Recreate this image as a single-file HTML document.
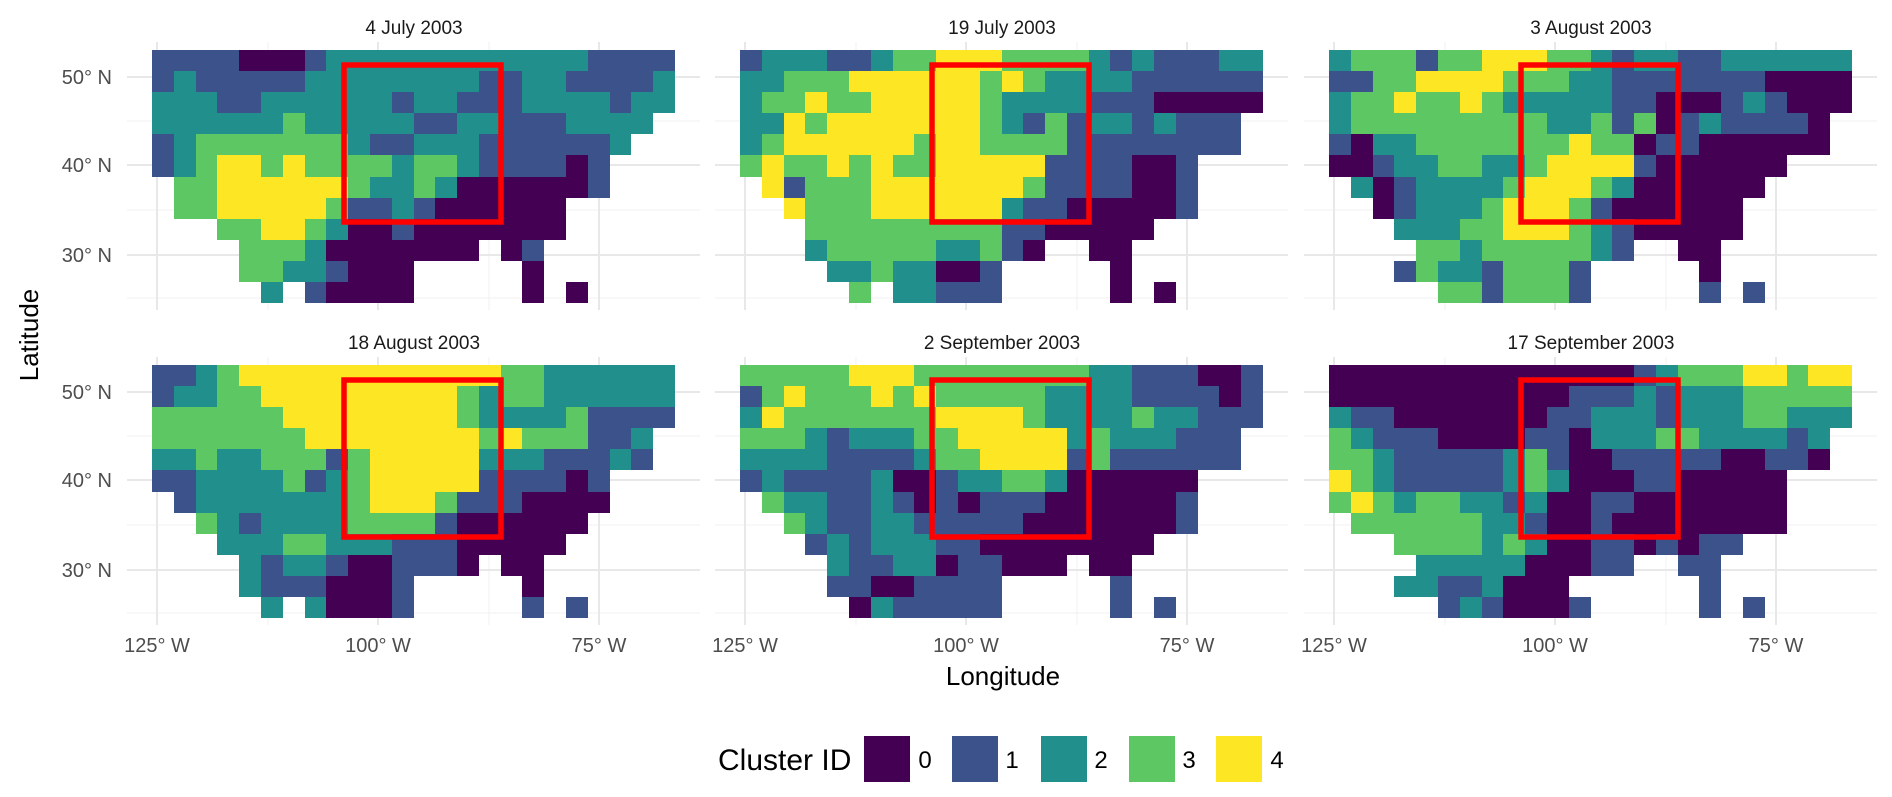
<!DOCTYPE html>
<html><head><meta charset="utf-8">
<style>
html,body{margin:0;padding:0;background:#fff;}
svg{display:block;font-family:"Liberation Sans",Arial,sans-serif;}
</style></head>
<body>
<svg id="s" width="1892" height="797" viewBox="0 0 1892 797" xmlns="http://www.w3.org/2000/svg">
<rect width="1892" height="797" fill="#fff"/>
<g id="grid"></g>
<g id="cells" shape-rendering="crispEdges"></g>
<g id="boxes"></g>
<g id="txt" fill="#4d4d4d" font-size="20"></g>
<text x="1003" y="685" font-size="26" text-anchor="middle" fill="#000">Longitude</text>
<text transform="translate(38,335) rotate(-90)" font-size="26" text-anchor="middle" fill="#000">Latitude</text>
<text x="718" y="770" font-size="30" fill="#000">Cluster ID</text>
<rect x="864" y="736" width="46" height="46" fill="#440154"/>
<rect x="952" y="736" width="46" height="46" fill="#3b528b"/>
<rect x="1041" y="736" width="46" height="46" fill="#21908c"/>
<rect x="1129" y="736" width="46" height="46" fill="#5dc863"/>
<rect x="1216" y="736" width="46" height="46" fill="#fde725"/>
<g font-size="24" fill="#000" text-anchor="middle">
<text x="925" y="768">0</text><text x="1012" y="768">1</text><text x="1101" y="768">2</text><text x="1189" y="768">3</text><text x="1277" y="768">4</text>
</g>
</svg>
<script>
var P=[
[ "1111"+"000"+"1"+"222222222222"+"1111",
  "1"+"2"+"1"+"1111"+"22222222"+"11"+"22"+"1111"+"2",
  "222112222221221112222122",
  "222222"+"3"+"22222"+"11"+"22"+"111"+"2222"+".",
  "1"+"2"+"3"+"333333"+"2"+"1"+"1"+"2"+"2"+"2"+"111111"+"2"+"..",
  "1234434333"+"3"+"2332"+"1111"+"0"+"1"+"...",
  "."+"33"+"444444"+"3"+"22"+"3"+"2"+"000000"+"1"+"...",
  "."+"33"+"44444"+"3"+"11"+"2"+"1"+"000000"+".....",
  "..."+"3344320010"+"000000"+".....",
  "...."+"333"+"2"+"0"+"00000"+"0"+"."+"0"+"1"+"......",
  "...."+"3322"+"1"+"000"+"....."+"0"+"......",
  "....."+"2"+"."+"1"+"000"+"0"+"....."+"0"+"."+"0"+"...."],
[ "122211233444333321211122",
  "223334444443432222111111",
  "233433444443222211100000",
  "22"+"4"+"3"+"4444444"+"3"+"2"+"1"+"3"+"1"+"22"+"1"+"2"+"111"+".",
  "23444444"+"344"+"3333"+"11111111"+".",
  "343343433"+"44444"+"1111"+"00"+"1"+"...",
  "."+"41"+"333"+"4"+"4"+"44444"+"3"+"111"+"1"+"00"+"1"+"...",
  ".."+"4"+"333"+"4"+"44444"+"2"+"11"+"0"+"0000"+"1"+"...",
  "..."+"333333333"+"1"+"1"+"0"+"0000"+".....",
  "..."+"2"+"33333"+"22"+"3"+"1"+"0"+".."+"00"+"......",
  "...."+"22322"+"00"+"1"+"....."+"0"+"......",
  "....."+"3"+"."+"22"+"111"+"....."+"0"+"."+"0"+"...."],
[ "233313344433212211222222",
  "1133444"+"4"+"333"+"22"+"1111111"+"0000",
  "233433432222211000121000",
  "2333333333"+"22"+"3"+"1"+"3"+"0"+"1"+"2"+"1111"+"0"+".",
  "1022"+"3333333"+"4"+"33"+"0"+"11"+"000000"+".",
  "00"+"1"+"22"+"3"+"3"+"22"+"3"+"4444"+"1"+"000000"+"...",
  "."+"2"+"0"+"1"+"2222"+"3"+"444"+"3"+"2"+"000000"+"....",
  ".."+"0"+"1"+"222"+"3"+"444"+"3"+"1"+"000000"+".....",
  "..."+"222"+"33"+"444"+"3"+"2"+"1"+"00000"+".....",
  "...."+"33"+"2"+"33333"+"2"+"1"+".."+"00"+"......",
  "..."+"1"+"3"+"22"+"1"+"333"+"1"+"....."+"0"+"......",
  "....."+"33"+"1"+"333"+"1"+"....."+"1"+"."+"1"+"...."],
[ "1123"+"444444444444"+"33"+"2"+"2"+"2222",
  "12233"+"444444444"+"3"+"2"+"33"+"2"+"22222",
  "3"+"33333"+"4"+"4444444"+"3"+"2"+"2"+"2"+"2"+"3"+"1"+"111",
  "3333333"+"4"+"4444444"+"3"+"4"+"333"+"11"+"2"+".",
  "22322333"+"1"+"3"+"44444"+"222"+"111"+"2"+"1"+".",
  "112222"+"3"+"1"+"2"+"3"+"44444"+"1111"+"0"+"1"+"...",
  "."+"1"+"2222222"+"3"+"444"+"3"+"111"+"0000"+"...",
  "..321222233331000000....",
  "..."+"22233222111"+"00000"+".....",
  "...."+"2"+"1"+"2"+"2"+"1"+"00"+"111"+"0"+"."+"00"+"......",
  "...."+"2111"+"000"+"1"+"....."+"0"+"......",
  "....."+"2"+"."+"2"+"000"+"1"+"....."+"1"+"."+"1"+"...."],
[ "3"+"3333"+"444"+"3"+"3"+"3"+"33333"+"22"+"1"+"11"+"0"+"0"+"1",
  "134333434333332222111101",
  "243333333444432222322111",
  "33321222334444423222111.",
  "22221111233444413111111.",
  "121111200122332000000...",
  ".32211210101110000001...",
  "..3211221111100000001...",
  "..."+"1212221100000000"+".....",
  "...."+"2112201100"+"0"+"."+"00"+"......",
  "...."+"11001111"+"....."+"1"+"......",
  "....."+"0"+"2"+"11111"+"....."+"1"+"."+"1"+"...."],
[ "00000000000000"+"1"+"2"+"333"+"4"+"4"+"3"+"4"+"4",
  "00000000000"+"1"+"11"+"2"+"1"+"222"+"33333",
  "211"+"0000000"+"11"+"222"+"1"+"222"+"33"+"222",
  "32111"+"0000"+"11"+"0"+"222"+"33"+"2222"+"1"+"2"+".",
  "33211111231001111100110.",
  "432111112320001100000...",
  "343233221200110000000...",
  ".33333322100100000000...",
  "..."+"3333232001101011"+".....",
  "...."+"2222200011"+".."+"11"+"......",
  "..."+"22112000"+"."+"....."+"1"+"......",
  "....."+"1"+"2"+"1"+"000"+"1"+"....."+"1"+"."+"1"+"...."]
];
var C=["#440154","#3b528b","#21908c","#5dc863","#fde725"];
var PX=[152,740,1329],PY=[50,365];
var T=["4 July 2003","19 July 2003","3 August 2003","18 August 2003","2 September 2003","17 September 2003"];
var NS="http://www.w3.org/2000/svg";
function el(p,n,a,t){var e=document.createElementNS(NS,n);for(var k in a)e.setAttribute(k,a[k]);if(t)e.textContent=t;p.appendChild(e);return e;}
var g=document.getElementById("grid"),c=document.getElementById("cells"),b=document.getElementById("boxes"),tx=document.getElementById("txt");
var cw=523/24,ch=253/12;
for(var i=0;i<6;i++){
  var px=PX[i%3],py=PY[Math.floor(i/3)];
  var x0=px-25,x1=px+548,y0=py-8,y1=py+260;
  [71,160,248].forEach(function(d){el(g,"line",{x1:x0,x2:x1,y1:py+d,y2:py+d,stroke:"#f0f0f0","stroke-width":1});});
  [116,337].forEach(function(d){el(g,"line",{x1:px+d,x2:px+d,y1:y0,y2:y1,stroke:"#f0f0f0","stroke-width":1});});
  [27,115,205].forEach(function(d){el(g,"line",{x1:x0,x2:x1,y1:py+d,y2:py+d,stroke:"#e8e8e8","stroke-width":2});});
  [5,226,447].forEach(function(d){el(g,"line",{x1:px+d,x2:px+d,y1:y0,y2:y1,stroke:"#e8e8e8","stroke-width":2});});
  var rows=P[i];
  for(var r=0;r<rows.length;r++){
    var s=rows[r];
    for(var k=0;k<s.length&&k<24;k++){
      var ch_=s.charAt(k); if(ch_==".")continue;
      var xa=Math.round(px+k*cw),xb=Math.round(px+(k+1)*cw),ya=Math.round(py+r*ch),yb=Math.round(py+(r+1)*ch);
      el(c,"rect",{x:xa,y:ya,width:xb-xa,height:yb-ya,fill:C[+ch_]});
    }
  }
  el(b,"rect",{x:px+192,y:py+15,width:157,height:157,fill:"none",stroke:"#ff0000","stroke-width":5.5});
  el(tx,"text",{x:px+262,y:py-16,"text-anchor":"middle","font-size":19,fill:"#1a1a1a"},T[i]);
  if(i%3==0){
    [["50° N",27],["40° N",115],["30° N",205]].forEach(function(a){el(tx,"text",{x:112,y:py+a[1]+7,"text-anchor":"end"},a[0]);});
  }
  if(i>=3){
    [["125° W",5],["100° W",226],["75° W",447]].forEach(function(a){el(tx,"text",{x:px+a[1],y:652,"text-anchor":"middle"},a[0]);});
  }
}
</script>
</body></html>
